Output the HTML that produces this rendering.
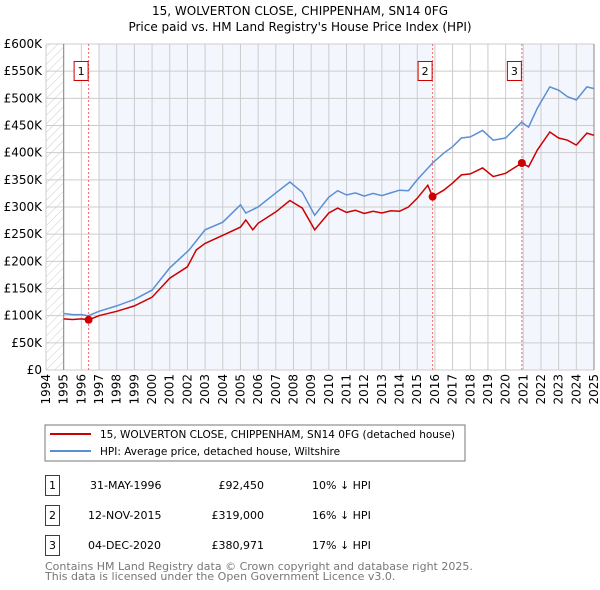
<!DOCTYPE html>
<html><head><meta charset="utf-8"><style>
body{margin:0;background:#fff;font-family:"DejaVu Sans","Liberation Sans",sans-serif;}
svg{display:block}
</style></head><body>
<svg id="c" width="600" height="590" xmlns="http://www.w3.org/2000/svg" font-family="DejaVu Sans, Liberation Sans, sans-serif">
<defs><pattern id="hatch" width="6" height="6" patternUnits="userSpaceOnUse" patternTransform="rotate(45)"><line x1="0" y1="0" x2="0" y2="6" stroke="#ccc" stroke-width="1"/></pattern></defs>
<text x="300" y="15" text-anchor="middle" font-size="12">15, WOLVERTON CLOSE, CHIPPENHAM, SN14 0FG</text>
<text x="300" y="31" text-anchor="middle" font-size="12">Price paid vs. HM Land Registry's House Price Index (HPI)</text>
<g id="plot"></g>
<rect x="45" y="425" width="420" height="36" fill="#fff" stroke="#777"/>
<line x1="50" y1="434" x2="91" y2="434" stroke="#cc0000" stroke-width="2"/>
<text x="100" y="438" font-size="10.5" textLength="355" lengthAdjust="spacingAndGlyphs">15, WOLVERTON CLOSE, CHIPPENHAM, SN14 0FG (detached house)</text>
<line x1="50" y1="451" x2="91" y2="451" stroke="#5b8fd4" stroke-width="2"/>
<text x="100" y="455" font-size="10.5">HPI: Average price, detached house, Wiltshire</text>
<g font-size="11">
<rect x="45.5" y="475.5" width="14" height="20" fill="none" stroke="#cc0000"/><text x="52.5" y="489" text-anchor="middle">1</text>
<text x="90" y="489">31-MAY-1996</text><text x="264" y="489" text-anchor="end">£92,450</text><text x="312" y="489">10% ↓ HPI</text>
<rect x="45.5" y="505.5" width="14" height="20" fill="none" stroke="#cc0000"/><text x="52.5" y="519" text-anchor="middle">2</text>
<text x="88" y="519">12-NOV-2015</text><text x="264" y="519" text-anchor="end">£319,000</text><text x="312" y="519">16% ↓ HPI</text>
<rect x="45.5" y="535.5" width="14" height="20" fill="none" stroke="#cc0000"/><text x="52.5" y="549" text-anchor="middle">3</text>
<text x="88" y="549">04-DEC-2020</text><text x="264" y="549" text-anchor="end">£380,971</text><text x="312" y="549">17% ↓ HPI</text>
</g>
<text x="45" y="570" font-size="11" fill="#777">Contains HM Land Registry data © Crown copyright and database right 2025.</text>
<text x="45" y="580" font-size="11" fill="#777">This data is licensed under the Open Government Licence v3.0.</text>
</svg>
<script>
const hpiYears=[1995,1995.5,1996,1996.4,1997,1998,1999,2000,2001,2002.1,2003,2004,2005,2005.3,2006,2007,2007.8,2008.5,2009.2,2010,2010.5,2011,2011.5,2012,2012.5,2013,2013.5,2014,2014.5,2015,2015.87,2016.5,2017,2017.5,2018,2018.7,2019.3,2020,2020.9,2021.3,2021.8,2022.5,2023,2023.5,2024,2024.6,2025];
const hpiValues=[104,102,102,100,108,118,130,147,188,221,258,272,304,289,300,326,346,327,285,318,330,322,326,320,325,321,326,331,330,350,381,399,411,427,429,441,423,427,456,447,482,521,515,503,497,521,518];
const redYears=[1995,1995.5,1996,1996.41,1997,1998,1999,2000,2001,2002,2002.5,2003,2004,2005,2005.3,2005.7,2006,2007,2007.8,2008.5,2009.2,2010,2010.5,2011,2011.5,2012,2012.5,2013,2013.5,2014,2014.5,2015,2015.6,2015.87,2016.5,2017,2017.5,2018,2018.7,2019.3,2020,2020.92,2021.3,2021.8,2022.5,2023,2023.5,2024,2024.6,2025];
const redValues=[94,93,94,92.45,100,108,118,134,169,190,221,233,248,263,276,258,270,291,312,298,258,289,298,290,294,288,292,289,293,292,300,316,340,319,331,344,359,361,372,356,362,381,374,405,438,427,423,414,436,432];
const saleYears=[1996.41,2015.87,2020.92];
const saleValues=[92.45,319,380.971];
const saleLabels=["1","2","3"];
const yTicks=[0,50,100,150,200,250,300,350,400,450,500,550,600];
const yTickLabels=["£0","£50K","£100K","£150K","£200K","£250K","£300K","£350K","£400K","£450K","£500K","£550K","£600K"];
const xTicks=[1994,1995,1996,1997,1998,1999,2000,2001,2002,2003,2004,2005,2006,2007,2008,2009,2010,2011,2012,2013,2014,2015,2016,2017,2018,2019,2020,2021,2022,2023,2024,2025];

const L=46,R=594,T=44,B=370,Y0=1994,Y1=2025,VMAX=600;
const x=v=>L+(v-Y0)/(Y1-Y0)*(R-L);
const y=v=>B-v/VMAX*(B-T);
const NS="http://www.w3.org/2000/svg";
const g=document.getElementById('plot');
function mk(tag,attrs,parent){const e=document.createElementNS(NS,tag);for(const k in attrs)e.setAttribute(k,attrs[k]);(parent||g).appendChild(e);return e;}

let e;
e=mk('rect',{x:L,y:T,width:R-L,height:B-T,fill:'#fff'});


e=mk('rect',{x:x(1997),y:T,width:x(saleYears[1])-x(1997),height:B-T,fill:'#eef3fc',opacity:0.7});


e=mk('rect',{x:x(saleYears[2]),y:T,width:R-x(saleYears[2]),height:B-T,fill:'#eef3fc',opacity:0.7});


e=mk('rect',{x:L,y:T,width:x(1995)-L,height:B-T,fill:'url(#hatch)'});


yTicks.forEach((t,i)=>{
  e=mk('line',{x1:L,x2:R,y1:y(t),y2:y(t),stroke:'#ccc','stroke-width':1});
  
  
  e=mk('text',{x:L-4,y:y(t)+4,'text-anchor':'end','font-size':12});
  e.textContent=yTickLabels[i];
  
  
});
xTicks.forEach(t=>{
  e=mk('line',{x1:x(t),x2:x(t),y1:T,y2:B,stroke:'#ccc','stroke-width':1});
  
  
  const tx=x(t)+4, ty=B+4;
  e=mk('text',{x:tx,y:ty,'text-anchor':'end','font-size':12,transform:'rotate(-90 '+tx+' '+ty+')'});
  e.textContent=String(t);
  
  
});
e=mk('line',{x1:x(1995),x2:x(1995),y1:T,y2:B,stroke:'#888'});


e=mk('line',{x1:R,x2:R,y1:T,y2:B,stroke:'#888'});


saleYears.forEach((s,i)=>{
  e=mk('line',{x1:x(s),x2:x(s),y1:T,y2:B,stroke:'#ff6666','stroke-dasharray':'2,2','stroke-width':1});
  
  
  e=mk('rect',{x:x(s)-14.5,y:61.5,width:14,height:19,fill:'#fff',stroke:'#cc0000'});
  
  
  e=mk('text',{x:x(s)-7.5,y:75,'text-anchor':'middle','font-size':11});
  e.textContent=saleLabels[i];
  
  
});
function path(xs,vs){return xs.map((v,i)=>(i?'L':'M')+x(v).toFixed(1)+','+y(vs[i]).toFixed(1)).join('');}
e=mk('path',{d:path(hpiYears,hpiValues),fill:'none',stroke:'#5b8fd4','stroke-width':1.5});


e=mk('path',{d:path(redYears,redValues),fill:'none',stroke:'#cc0000','stroke-width':1.5});


saleYears.forEach((s,i)=>{
  e=mk('circle',{cx:x(s),cy:y(saleValues[i]),r:4,fill:'#cc0000'});
  
  
});
</script>
</body></html>
